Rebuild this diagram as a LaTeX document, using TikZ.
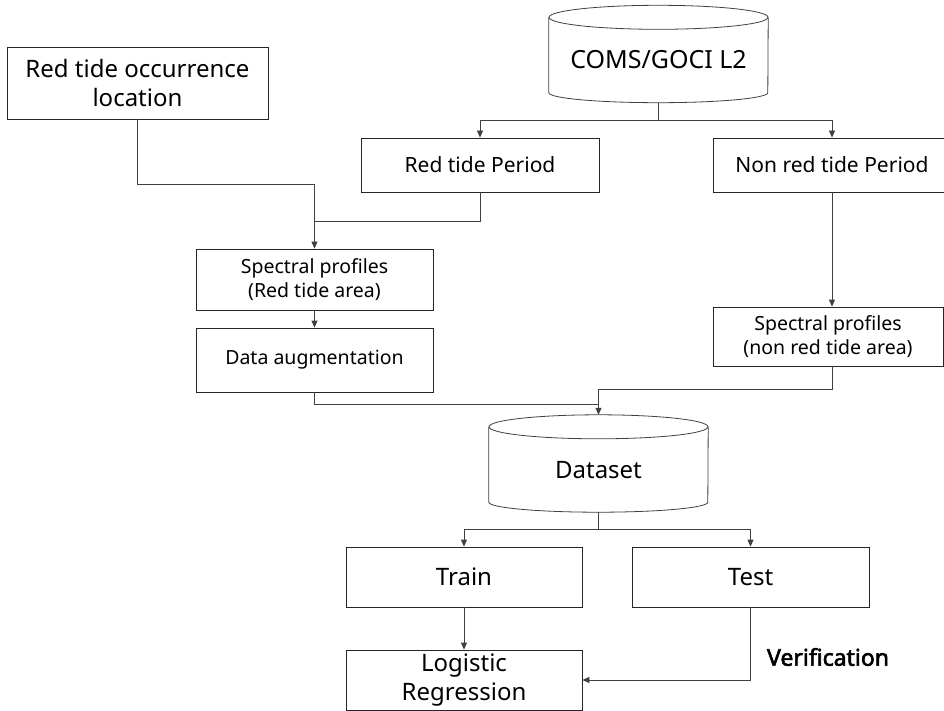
\documentclass[tikz,border=0pt]{standalone}
\usepackage{fontspec}
\setmainfont{Noto Sans}[AutoFakeBold=2.5]
\usetikzlibrary{arrows.meta,calc}

\tikzset{
	box/.style={draw=black!85,line width=0.8pt,minimum width=237pt,inner sep=2pt,align=center},
	db/.style={inner sep=0pt,minimum width=219pt,minimum height=97pt,text height=36pt,text depth=6pt,align=center},
	link/.style={draw=black!75,line width=0.8pt},
	arr/.style={link,-{Triangle[length=7pt,width=6pt]}},
	big/.style={font=\fontsize{24}{29}\selectfont},
	mid/.style={font=\fontsize{21}{26}\selectfont},
	small/.style={font=\fontsize{19.5}{24}\selectfont},
}

\begin{document}
\begin{tikzpicture}[x=1pt,y=-1pt]
	\clip (0,0) rectangle (944,711);
	\fill[white] (0,0) rectangle (944,711);
	% boxes
	\node[box,big,minimum width=261pt,minimum height=72pt] (occ) at (137.5,83) {Red tide occurrence\\location};
	\node[db,big,font=\fontsize{25}{29}\selectfont] (coms) at (658.5,54) {COMS/GOCI L2};
	\node[box,mid,minimum width=238pt,minimum height=54pt] (rtp) at (480,165) {Red tide Period};
	\node[box,mid,minimum width=238pt,minimum height=54pt] (nrtp) at (832,165) {Non red tide Period};
	\node[box,small,minimum height=61pt] (spr) at (314.5,279.5) {Spectral profiles\\(Red tide area)};
	\node[box,small,minimum height=64pt] (aug) at (314.5,360) {Data augmentation};
	\node[box,small,minimum width=230pt,minimum height=59pt] (spn) at (828,336.5) {Spectral profiles\\(non red tide area)};
	\node[db,big] (ds) at (598.5,463.5) {Dataset};
	\node[box,big,minimum width=236pt,minimum height=60pt] (train) at (464,577) {Train};
	\node[box,big,minimum height=60pt] (test) at (750.5,577) {Test};
	\node[box,big,minimum width=236pt,minimum height=60pt] (logr) at (464,680) {Logistic\\Regression};
	\node[font=\bfseries\fontsize{23}{29}\selectfont] (verif) at (828,657) {Verification};
	% cylinders
	\foreach \c in {coms,ds}{
		\draw[link] ([yshift=-12pt]\c.north west) -- ([yshift=10pt]\c.south west) arc[start angle=180,end angle=360,x radius=109.5pt,y radius=10pt] -- ([yshift=-12pt]\c.north east);
		\draw[link] ([yshift=-12pt]\c.north) ellipse[x radius=109.5pt,y radius=12pt];
	}
	% connectors
	\coordinate (m1) at (314.5,221);
	\coordinate (m2) at (598.5,404);
	\draw[link] (coms.south) -- ++(0,18) coordinate (f1);
	\draw[arr] (f1) -| (rtp.north);
	\draw[arr] (f1) -| (nrtp.north);
	\draw[arr] (occ.south) -- ++(0,65) -| (spr.north);
	\draw[link] (rtp.south) |- (m1);
	\draw[arr] (spr.south) -- (aug.north);
	\draw[arr] (nrtp.south) -- (nrtp.south |- spn.north);
	\draw[arr] (nrtp.south |- spn.south) -- ++(0,23) -| (ds.north);
	\draw[link] (aug.south) |- (m2);
	\draw[link] (ds.south) -- ++(0,17) coordinate (f2);
	\draw[arr] (f2) -| (train.north);
	\draw[arr] (f2) -| (test.north);
	\draw[arr] (train.south) -- (logr.north);
	\draw[arr] (test.south) |- (logr.east);
\end{tikzpicture}
\end{document}
